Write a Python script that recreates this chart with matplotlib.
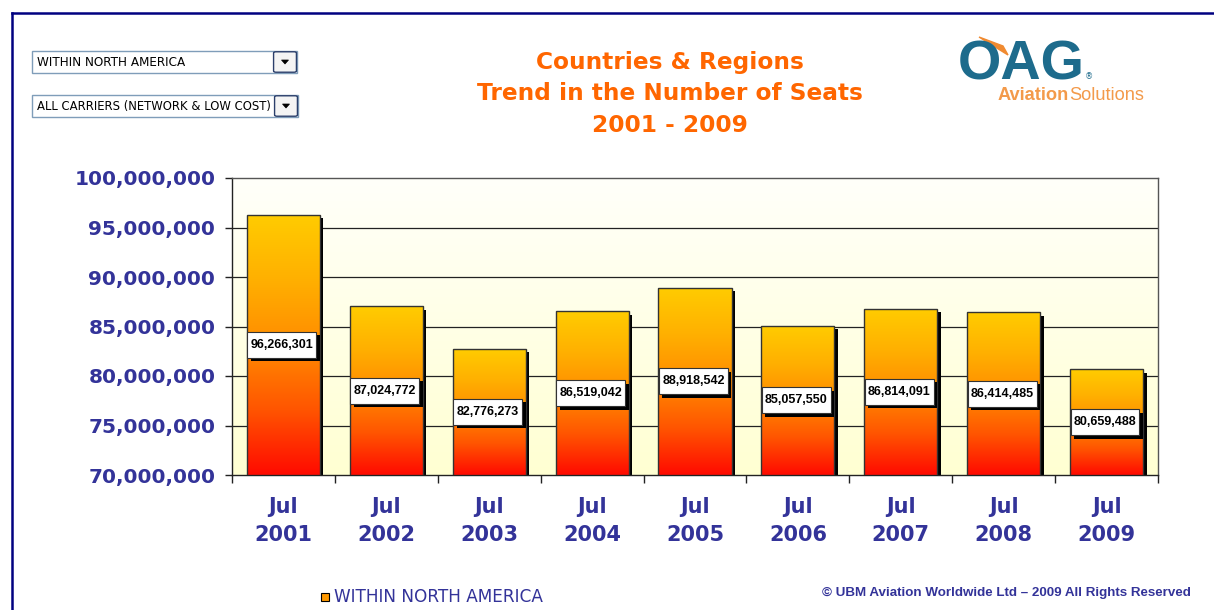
import numpy as np
import matplotlib.pyplot as plt
from matplotlib.colors import LinearSegmentedColormap
from matplotlib.patches import Rectangle, FancyBboxPatch, Polygon
from matplotlib.lines import Line2D
from matplotlib.transforms import ScaledTranslation

# ---------- data ----------
months = ["Jul\n2001", "Jul\n2002", "Jul\n2003", "Jul\n2004", "Jul\n2005",
          "Jul\n2006", "Jul\n2007", "Jul\n2008", "Jul\n2009"]
seats = [96266301, 87024772, 82776273, 86519042, 88918542,
         85057550, 86814091, 86414485, 80659488]
y_ticks = [70e6, 75e6, 80e6, 85e6, 90e6, 95e6, 100e6]
region = "WITHIN NORTH AMERICA"
carriers = "ALL CARRIERS (NETWORK & LOW COST)"
title_lines = ["Countries & Regions", "Trend in the Number of Seats", "2001 - 2009"]
copyright_text = "\u00a9 UBM Aviation Worldwide Ltd \u2013 2009 All Rights Reserved"

W, H = 1214, 610
navy = "#333399"
orange = "#FF6600"
ymin, ymax = 70e6, 100e6


def fx(px):
    return px / W


def fy(py):
    return 1 - py / H


fig = plt.figure(figsize=(W / 100, H / 100), dpi=100)
fig.patch.set_facecolor("white")
renderer = fig.canvas.get_renderer()


def fit_width(texts, target_px):
    # scale a group of texts so their summed width matches the reference
    w = sum(t.get_window_extent(renderer).width for t in texts)
    for t in texts:
        t.set_fontsize(t.get_fontsize() * target_px / w)


# page border (top + left)
fig.add_artist(Line2D([fx(12), fx(W)], [fy(13), fy(13)], color="#000080", lw=1.8))
fig.add_artist(Line2D([fx(12), fx(12)], [fy(13), fy(H)], color="#000080", lw=1.8))

ax = fig.add_axes([fx(232), fy(475), fx(1158) - fx(232), fy(178) - fy(475)])
ax.set_xlim(-0.5, len(seats) - 0.5)
ax.set_ylim(ymin, ymax)

# plot area background gradient
bg_cmap = LinearSegmentedColormap.from_list("bg", ["#FFFFD2", "#FFFFFA"])
ax.imshow(np.linspace(0, 1, 256).reshape(-1, 1), cmap=bg_cmap, origin="lower",
          extent=[0, 1, 0, 1], transform=ax.transAxes, aspect="auto", zorder=0)

for y in y_ticks[1:-1]:
    ax.axhline(y, color="#222222", lw=0.9, zorder=1)

bar_cmap = LinearSegmentedColormap.from_list(
    "bar", ["#FF0A00", "#FF5500", "#FF8C00", "#FFB000", "#FFCC00"])
grad = np.linspace(0, 1, 256).reshape(-1, 1)
width = 0.71
shadow = ax.transData + ScaledTranslation(3.5 / 100, -3.5 / 100, fig.dpi_scale_trans)

xs = np.arange(len(seats))
ax.bar(xs, np.array(seats) - ymin, width, bottom=ymin, color="black",
       transform=shadow, zorder=2)
bars = ax.bar(xs, np.array(seats) - ymin, width, bottom=ymin, facecolor="none",
              edgecolor="#333333", lw=1.0, zorder=4)
for b, v in zip(bars, seats):
    x0 = b.get_x()
    im = ax.imshow(grad, cmap=bar_cmap, origin="lower", aspect="auto",
                   extent=[x0, x0 + width, ymin, v], zorder=3)
    im.set_clip_path(b)

# value labels: white box (about 69 x 26 px) with black drop shadow
ax_h = ax.get_window_extent(renderer).height
box_h = 26 * (ymax - ymin) / ax_h
box_w = 0.67
for x, v in zip(xs, seats):
    yc = (v + ymin) / 2
    ax.add_patch(Rectangle((x - box_w / 2 - 0.015, yc - box_h / 2), box_w, box_h,
                           fc="black", ec="none", transform=shadow, zorder=5))
    ax.add_patch(Rectangle((x - box_w / 2 - 0.015, yc - box_h / 2), box_w, box_h,
                           fc="white", ec="#333333", lw=0.8, zorder=6))
    ax.text(x - 0.015, yc, f"{v:,}", ha="center", va="center", fontsize=9,
            fontweight="bold", family="Liberation Sans", color="black", zorder=7)

# axes styling
for s in ax.spines.values():
    s.set_color("#555555")
    s.set_linewidth(1.0)
ax.spines["left"].set_color("#222222")
ax.spines["bottom"].set_color("#222222")
ax.set_yticks(y_ticks)
ax.set_yticklabels([f"{int(t):,}" for t in y_ticks])
ax.tick_params(axis="y", length=5, width=1, color="#222222", pad=7,
               labelsize=14.5, labelcolor=navy)
for t in ax.get_yticklabels():
    t.set_fontweight("bold")

ax.set_xticks(np.arange(-0.5, len(seats), 1.0))
ax.set_xticklabels([])
ax.tick_params(axis="x", which="major", length=6, width=1, color="#222222")
ax.set_xticks(xs, minor=True)
ax.set_xticklabels(months, minor=True, fontsize=15, fontweight="bold",
                   color=navy, linespacing=1.5)
ax.tick_params(axis="x", which="minor", length=0, pad=16)

# title, one line at a time
title_texts = [fig.text(fx(670), fy(yy), line, ha="center", va="center",
                        color=orange, fontsize=16, fontweight="bold")
               for line, yy in zip(title_lines, [62, 94, 126])]
fit_width(title_texts[:1], 268)
for t in title_texts[1:]:
    t.set_fontsize(title_texts[0].get_fontsize())


# dropdown controls
def dropdown(x0, y0, x1, y1, text, target):
    fig.add_artist(Rectangle((fx(x0), fy(y1)), fx(x1) - fx(x0), fy(y0) - fy(y1),
                             fc="white", ec="#7F9DB9", lw=1.0))
    bx0 = x1 - 21
    fig.add_artist(FancyBboxPatch((fx(bx0), fy(y1 - 2)), fx(18), fy(y0) - fy(y1 - 4),
                                  boxstyle="round,pad=0.002", fc="#F4F4F4",
                                  ec="#2B3F6B", lw=1.0))
    cy = (y0 + y1) / 2
    fig.add_artist(Polygon([[fx(bx0 + 5.5), fy(cy - 2)], [fx(bx0 + 12.5), fy(cy - 2)],
                            [fx(bx0 + 9), fy(cy + 2)]], closed=True,
                           fc="black", ec="black", lw=0.5))
    t = fig.text(fx(x0 + 5), fy(cy), text, ha="left", va="center",
                 fontsize=8.5, color="black", family="DejaVu Sans")
    fit_width([t], target)


dropdown(32, 51, 297, 73, region, 147)
dropdown(32, 95, 298, 117, carriers, 233)

# logo
fig.add_artist(Polygon([[fx(979), fy(37)], [fx(1008), fy(55)], [fx(1003), fy(46)]],
                       color="#F08A30"))
oag = fig.text(fx(958), fy(80), "OAG", ha="left", va="baseline", fontsize=38,
               fontweight="bold", color="#1D6B8C", family="Liberation Sans")
fit_width([oag], 127)
fig.text(fx(1085), fy(79), "\u00ae", ha="left", va="baseline", fontsize=6,
         color="#1D6B8C")
av = fig.text(fx(998), fy(100), "Aviation", ha="left", va="baseline", fontsize=13,
              fontweight="bold", color="#F39A4A", family="Liberation Sans",
              fontstretch="condensed")
so = fig.text(fx(1062), fy(100), "Solutions", ha="left", va="baseline", fontsize=13,
              color="#F39A4A", family="Liberation Sans", fontstretch="condensed")
fit_width([av, so], 146)
av_w = av.get_window_extent(renderer).width
so.set_x(fx(998 + av_w))

# legend
fig.add_artist(Rectangle((fx(321), fy(601)), fx(8), fy(593) - fy(601),
                         fc="#FF9900", ec="black", lw=0.8))
leg = fig.text(fx(334), fy(597), region, ha="left", va="center", fontsize=11,
               color=navy, family="DejaVu Sans")
fit_width([leg], 209)

cr = fig.text(fx(1191), fy(593), copyright_text, ha="right", va="center",
              fontsize=9.5, fontweight="bold", color=navy, family="Liberation Sans",
              fontstretch="condensed")
fit_width([cr], 371)

fig.savefig("out.png", dpi=100)
